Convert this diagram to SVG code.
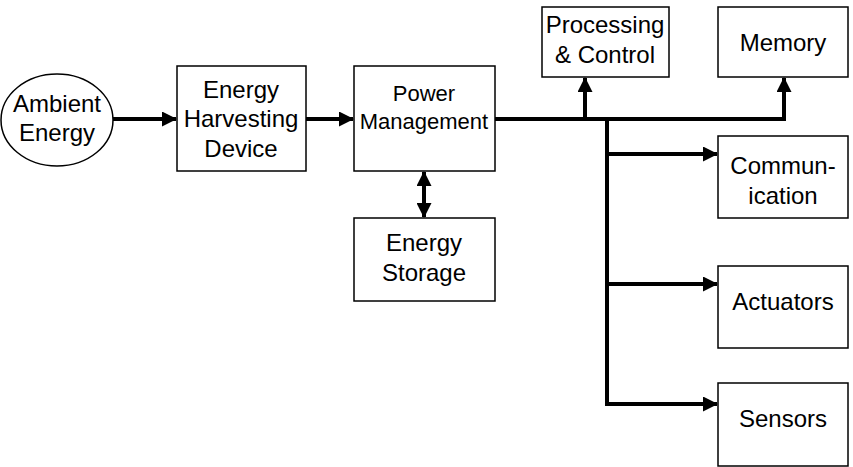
<svg xmlns="http://www.w3.org/2000/svg" width="853" height="467" viewBox="0 0 853 467">
<style>
.n{fill:#fff;stroke:#000;stroke-width:1.5}
.t{font-family:"Liberation Sans",Arial,sans-serif;font-size:24px;fill:#000;text-anchor:middle}
.c{fill:none;stroke:#000;stroke-width:4}
</style>
<defs>
<marker id="a" markerUnits="userSpaceOnUse" markerWidth="15" markerHeight="15" refX="14" refY="7.5" orient="auto-start-reverse" viewBox="0 0 15 15">
<path d="M0,0 L15,7.5 L0,15 Z" fill="#000"/>
</marker>
</defs>
<rect width="853" height="467" fill="#fff"/>
<g id="connectors">
<path class="c" d="M113,119 H176" marker-end="url(#a)"/>
<path class="c" d="M306,119 H353" marker-end="url(#a)"/>
<path class="c" d="M495,119 H784 V78" marker-end="url(#a)"/>
<path class="c" d="M585,119 V78" marker-end="url(#a)"/>
<path class="c" d="M607,119 V404 H717" marker-end="url(#a)"/>
<path class="c" d="M607,154 H717" marker-end="url(#a)"/>
<path class="c" d="M607,284 H717" marker-end="url(#a)"/>
<path class="c" d="M424,172 V217" marker-start="url(#a)" marker-end="url(#a)"/>
</g>
<g id="ambient"><ellipse class="n" cx="57" cy="120" rx="56" ry="46"/><text class="t" x="57" y="112">Ambient</text><text class="t" x="57" y="141">Energy</text></g>
<g id="harvest"><rect class="n" x="177" y="66" width="129" height="105"/><text class="t" x="241" y="98">Energy</text><text class="t" x="241" y="127">Harvesting</text><text class="t" x="241" y="157">Device</text></g>
<g id="power"><rect class="n" x="354" y="66" width="141" height="105"/><text class="t" x="424" y="101" style="font-size:22px">Power</text><text class="t" x="424" y="129" style="font-size:22px">Management</text></g>
<g id="storage"><rect class="n" x="354" y="218" width="141" height="83"/><text class="t" x="424" y="251">Energy</text><text class="t" x="424" y="281">Storage</text></g>
<g id="proc"><rect class="n" x="542" y="7" width="127" height="70"/><text class="t" x="605" y="33">Processing</text><text class="t" x="605" y="63">&amp; Control</text></g>
<g id="memory"><rect class="n" x="718" y="7" width="130" height="70"/><text class="t" x="783" y="51">Memory</text></g>
<g id="comm"><rect class="n" x="718" y="136" width="130" height="82"/><text class="t" x="783" y="174">Commun-</text><text class="t" x="783" y="204">ication</text></g>
<g id="act"><rect class="n" x="718" y="266" width="130" height="82"/><text class="t" x="783" y="310">Actuators</text></g>
<g id="sens"><rect class="n" x="718" y="383" width="130" height="83"/><text class="t" x="783" y="427">Sensors</text></g>
</svg>
